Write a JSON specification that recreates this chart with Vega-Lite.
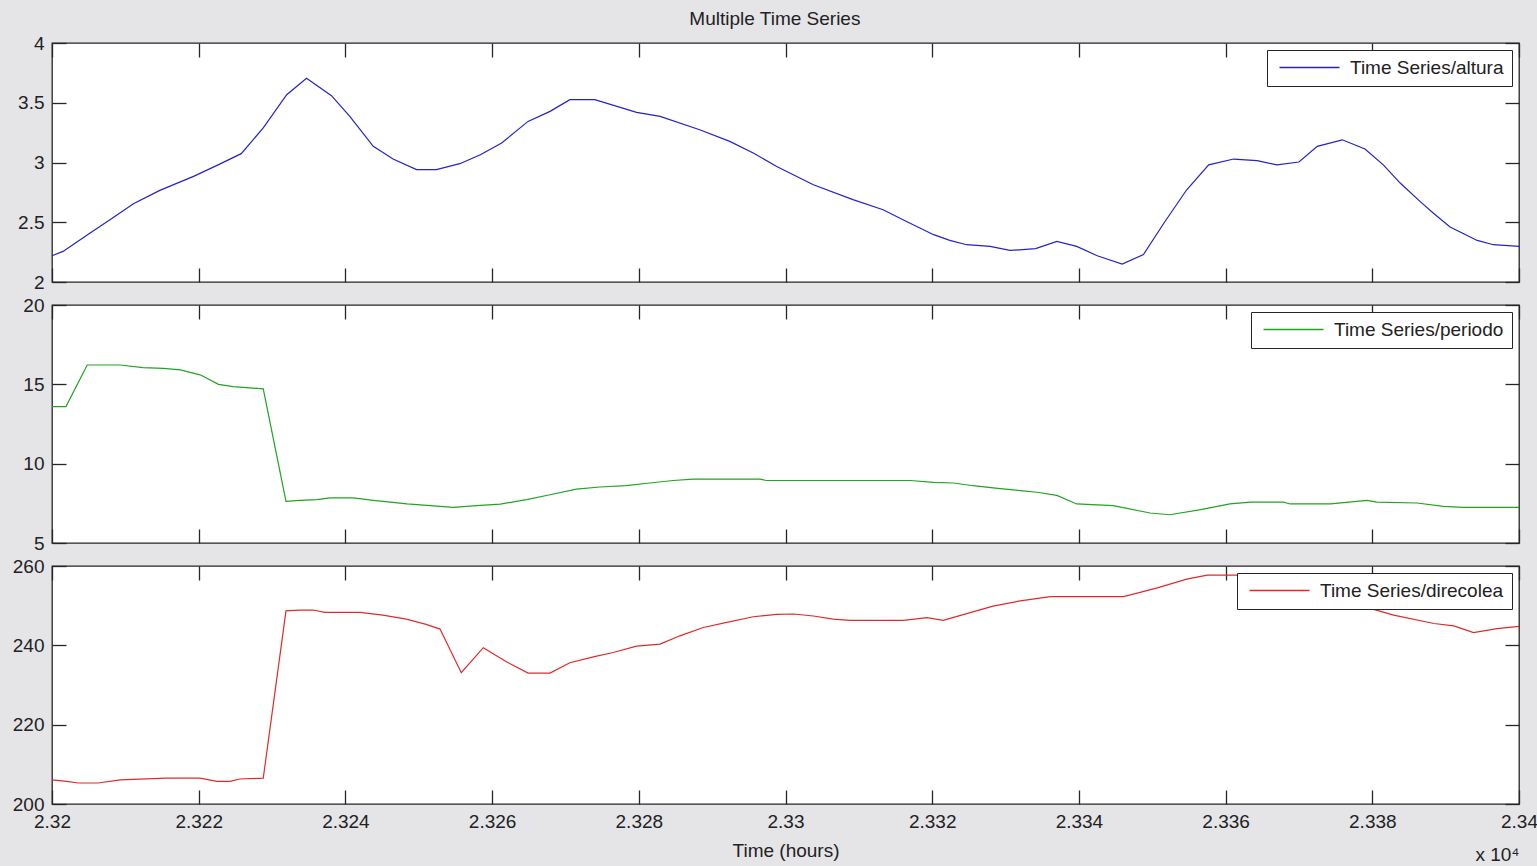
{
  "$schema": "https://vega.github.io/schema/vega-lite/v6.json",
  "background": "#e5e5e8",
  "padding": {"left": 11, "top": 10, "right": 0, "bottom": 4},
  "title": {"text": "Multiple Time Series", "anchor": "middle", "offset": 4},
  "bounds": "flush",
  "datasets": {
    "altura": [
      {"t": 23200, "v": 2.22}, {"t": 23201.5, "v": 2.256}, {"t": 23205.2, "v": 2.41}, {"t": 23207.9, "v": 2.52},
      {"t": 23211.1, "v": 2.655}, {"t": 23214.7, "v": 2.767}, {"t": 23219.3, "v": 2.884}, {"t": 23222.5, "v": 2.976},
      {"t": 23225.8, "v": 3.074}, {"t": 23228.8, "v": 3.289}, {"t": 23232.0, "v": 3.567}, {"t": 23234.7, "v": 3.704},
      {"t": 23238.1, "v": 3.559}, {"t": 23240.6, "v": 3.386}, {"t": 23243.8, "v": 3.135}, {"t": 23246.5, "v": 3.029},
      {"t": 23249.7, "v": 2.94}, {"t": 23252.4, "v": 2.94}, {"t": 23255.6, "v": 2.99}, {"t": 23258.4, "v": 3.065},
      {"t": 23261.3, "v": 3.163}, {"t": 23264.9, "v": 3.344}, {"t": 23267.9, "v": 3.428}, {"t": 23270.6, "v": 3.526},
      {"t": 23274.0, "v": 3.526}, {"t": 23279.7, "v": 3.42}, {"t": 23282.9, "v": 3.386}, {"t": 23288.3, "v": 3.274},
      {"t": 23292.4, "v": 3.177}, {"t": 23295.6, "v": 3.08}, {"t": 23298.8, "v": 2.967}, {"t": 23303.8, "v": 2.814},
      {"t": 23309.2, "v": 2.689}, {"t": 23313.3, "v": 2.605}, {"t": 23316.5, "v": 2.507}, {"t": 23320.2, "v": 2.396},
      {"t": 23322.4, "v": 2.348}, {"t": 23324.7, "v": 2.312}, {"t": 23327.9, "v": 2.298}, {"t": 23330.6, "v": 2.264},
      {"t": 23334.1, "v": 2.279}, {"t": 23337.0, "v": 2.34}, {"t": 23339.7, "v": 2.298}, {"t": 23342.5, "v": 2.22},
      {"t": 23345.9, "v": 2.15}, {"t": 23348.8, "v": 2.229}, {"t": 23351.6, "v": 2.494}, {"t": 23354.7, "v": 2.772},
      {"t": 23357.7, "v": 2.98}, {"t": 23361.1, "v": 3.029}, {"t": 23364.3, "v": 3.015}, {"t": 23367.0, "v": 2.98},
      {"t": 23370.0, "v": 3.004}, {"t": 23372.5, "v": 3.135}, {"t": 23375.9, "v": 3.19}, {"t": 23379.0, "v": 3.113},
      {"t": 23381.5, "v": 2.98}, {"t": 23383.8, "v": 2.828}, {"t": 23386.5, "v": 2.675}, {"t": 23388.3, "v": 2.577},
      {"t": 23390.6, "v": 2.46}, {"t": 23394.3, "v": 2.348}, {"t": 23396.5, "v": 2.312}, {"t": 23400, "v": 2.298}
    ],
    "periodo": [
      {"t": 23200, "v": 13.6}, {"t": 23201.9, "v": 13.6}, {"t": 23204.8, "v": 16.22}, {"t": 23209.3, "v": 16.22},
      {"t": 23212.4, "v": 16.05}, {"t": 23215.2, "v": 16.0}, {"t": 23217.5, "v": 15.91}, {"t": 23220.2, "v": 15.6},
      {"t": 23222.7, "v": 15.0}, {"t": 23224.7, "v": 14.86}, {"t": 23228.8, "v": 14.71}, {"t": 23231.9, "v": 7.62},
      {"t": 23233.8, "v": 7.69}, {"t": 23236.1, "v": 7.73}, {"t": 23237.9, "v": 7.84}, {"t": 23241.1, "v": 7.84},
      {"t": 23243.8, "v": 7.69}, {"t": 23248.4, "v": 7.46}, {"t": 23251.6, "v": 7.35}, {"t": 23254.7, "v": 7.24},
      {"t": 23257.9, "v": 7.35}, {"t": 23261.1, "v": 7.45}, {"t": 23264.7, "v": 7.73}, {"t": 23267.9, "v": 8.04},
      {"t": 23271.5, "v": 8.4}, {"t": 23274.7, "v": 8.53}, {"t": 23278.3, "v": 8.61}, {"t": 23281.5, "v": 8.78},
      {"t": 23284.7, "v": 8.94}, {"t": 23287.4, "v": 9.03}, {"t": 23296.5, "v": 9.03}, {"t": 23297.4, "v": 8.94},
      {"t": 23317.0, "v": 8.94}, {"t": 23320.2, "v": 8.82}, {"t": 23322.9, "v": 8.78}, {"t": 23325.6, "v": 8.61},
      {"t": 23328.3, "v": 8.47}, {"t": 23332.0, "v": 8.3}, {"t": 23334.3, "v": 8.2}, {"t": 23337.0, "v": 8.0},
      {"t": 23339.7, "v": 7.46}, {"t": 23344.7, "v": 7.35}, {"t": 23349.7, "v": 6.89}, {"t": 23352.4, "v": 6.78},
      {"t": 23356.6, "v": 7.1}, {"t": 23360.6, "v": 7.46}, {"t": 23363.4, "v": 7.58}, {"t": 23367.9, "v": 7.58},
      {"t": 23368.8, "v": 7.46}, {"t": 23374.3, "v": 7.46}, {"t": 23379.3, "v": 7.69}, {"t": 23380.6, "v": 7.58},
      {"t": 23386.1, "v": 7.52}, {"t": 23389.7, "v": 7.31}, {"t": 23392.4, "v": 7.24}, {"t": 23400, "v": 7.24}
    ],
    "direcolea": [
      {"t": 23200, "v": 206.1}, {"t": 23202.0, "v": 205.7}, {"t": 23203.6, "v": 205.3}, {"t": 23206.3, "v": 205.3},
      {"t": 23209.3, "v": 206.1}, {"t": 23215.6, "v": 206.5}, {"t": 23220.2, "v": 206.5}, {"t": 23222.5, "v": 205.7},
      {"t": 23224.3, "v": 205.7}, {"t": 23225.6, "v": 206.3}, {"t": 23228.8, "v": 206.5}, {"t": 23231.9, "v": 248.7},
      {"t": 23233.8, "v": 248.9}, {"t": 23235.6, "v": 248.9}, {"t": 23237.2, "v": 248.3}, {"t": 23242.0, "v": 248.3},
      {"t": 23245.1, "v": 247.6}, {"t": 23248.3, "v": 246.6}, {"t": 23251.0, "v": 245.3}, {"t": 23252.9, "v": 244.1},
      {"t": 23255.8, "v": 233.1}, {"t": 23258.8, "v": 239.4}, {"t": 23262.0, "v": 235.8}, {"t": 23264.9, "v": 233.0},
      {"t": 23267.9, "v": 233.0}, {"t": 23270.6, "v": 235.6}, {"t": 23273.8, "v": 237.1}, {"t": 23276.5, "v": 238.2},
      {"t": 23279.7, "v": 239.8}, {"t": 23282.9, "v": 240.3}, {"t": 23285.6, "v": 242.4}, {"t": 23288.8, "v": 244.5},
      {"t": 23292.0, "v": 245.8}, {"t": 23295.6, "v": 247.2}, {"t": 23298.8, "v": 247.8}, {"t": 23301.1, "v": 247.9},
      {"t": 23303.8, "v": 247.4}, {"t": 23306.5, "v": 246.6}, {"t": 23308.8, "v": 246.3}, {"t": 23316.1, "v": 246.3},
      {"t": 23319.3, "v": 247.0}, {"t": 23321.5, "v": 246.3}, {"t": 23324.7, "v": 248.0}, {"t": 23328.3, "v": 249.9},
      {"t": 23332.0, "v": 251.2}, {"t": 23336.1, "v": 252.3}, {"t": 23346.1, "v": 252.3}, {"t": 23350.7, "v": 254.5},
      {"t": 23354.7, "v": 256.7}, {"t": 23357.5, "v": 257.7}, {"t": 23361.6, "v": 257.7}, {"t": 23366, "v": 257.3},
      {"t": 23371, "v": 255}, {"t": 23376, "v": 251.5}, {"t": 23379.7, "v": 249.3}, {"t": 23382.9, "v": 247.6},
      {"t": 23388.4, "v": 245.5}, {"t": 23391.1, "v": 244.9}, {"t": 23393.8, "v": 243.2}, {"t": 23397.0, "v": 244.2},
      {"t": 23400, "v": 244.8}
    ]
  },
  "spacing": 23,
  "resolve": {"scale": {"color": "independent", "y": "independent"}, "legend": {"color": "independent"}},
  "vconcat": [
    {
      "width": 1467, "height": 239,
      "data": {"name": "altura"},
      "layer": [
        {
          "mark": {"type": "line", "strokeWidth": 1.2},
          "encoding": {
            "x": {"field": "t", "type": "quantitative", "scale": {"domain": [23200, 23400], "nice": false, "zero": false},
                  "axis": {"orient": "bottom", "labels": false, "title": null, "values": [23200, 23220, 23240, 23260, 23280, 23300, 23320, 23340, 23360, 23380, 23400]}},
            "y": {"field": "v", "type": "quantitative", "scale": {"domain": [2, 4], "nice": false, "zero": false},
                  "axis": {"orient": "left", "title": null, "values": [2, 2.5, 3, 3.5, 4], "labelExpr": "format(datum.value, '~g')"}},
            "color": {"datum": "Time Series/altura", "type": "nominal", "scale": {"range": ["#2323c8"]}, "legend": {"title": null}}
          }
        },
        {
          "mark": {"type": "line", "opacity": 0},
          "encoding": {
            "x": {"field": "t", "type": "quantitative", "axis": {"orient": "top", "labels": false, "title": null, "values": [23200, 23220, 23240, 23260, 23280, 23300, 23320, 23340, 23360, 23380, 23400]}},
            "y": {"field": "v", "type": "quantitative", "axis": {"orient": "right", "labels": false, "title": null, "values": [2, 2.5, 3, 3.5, 4]}}
          }
        }
      ],
      "resolve": {"axis": {"x": "independent", "y": "independent"}}
    },
    {
      "width": 1467, "height": 238,
      "data": {"name": "periodo"},
      "layer": [
        {
          "mark": {"type": "line", "strokeWidth": 1.2},
          "encoding": {
            "x": {"field": "t", "type": "quantitative", "scale": {"domain": [23200, 23400], "nice": false, "zero": false},
                  "axis": {"orient": "bottom", "labels": false, "title": null, "values": [23200, 23220, 23240, 23260, 23280, 23300, 23320, 23340, 23360, 23380, 23400]}},
            "y": {"field": "v", "type": "quantitative", "scale": {"domain": [5, 20], "nice": false, "zero": false},
                  "axis": {"orient": "left", "title": null, "values": [5, 10, 15, 20]}},
            "color": {"datum": "Time Series/periodo", "type": "nominal", "scale": {"range": ["#22a322"]}, "legend": {"title": null}}
          }
        },
        {
          "mark": {"type": "line", "opacity": 0},
          "encoding": {
            "x": {"field": "t", "type": "quantitative", "axis": {"orient": "top", "labels": false, "title": null, "values": [23200, 23220, 23240, 23260, 23280, 23300, 23320, 23340, 23360, 23380, 23400]}},
            "y": {"field": "v", "type": "quantitative", "axis": {"orient": "right", "labels": false, "title": null, "values": [5, 10, 15, 20]}}
          }
        }
      ],
      "resolve": {"axis": {"x": "independent", "y": "independent"}}
    },
    {
      "width": 1467, "height": 238,
      "data": {"name": "direcolea"},
      "layer": [
        {
          "mark": {"type": "line", "strokeWidth": 1.2},
          "encoding": {
            "x": {"field": "t", "type": "quantitative", "scale": {"domain": [23200, 23400], "nice": false, "zero": false},
                  "axis": {"orient": "bottom", "title": "Time (hours)", "labelExpr": "format(datum.value / 10000, '.4~f')", "values": [23200, 23220, 23240, 23260, 23280, 23300, 23320, 23340, 23360, 23380, 23400]}},
            "y": {"field": "v", "type": "quantitative", "scale": {"domain": [200, 260], "nice": false, "zero": false},
                  "axis": {"orient": "left", "title": null, "values": [200, 220, 240, 260]}},
            "color": {"datum": "Time Series/direcolea", "type": "nominal", "scale": {"range": ["#e02a2a"]}, "legend": {"title": null}}
          }
        },
        {
          "mark": {"type": "line", "opacity": 0},
          "encoding": {
            "x": {"field": "t", "type": "quantitative", "axis": {"orient": "top", "labels": false, "title": null, "values": [23200, 23220, 23240, 23260, 23280, 23300, 23320, 23340, 23360, 23380, 23400]}},
            "y": {"field": "v", "type": "quantitative", "axis": {"orient": "right", "labels": false, "values": [200, 220, 240, 260], "title": "x 10⁴", "titleAngle": 0, "titleAlign": "right", "titleBaseline": "alphabetic", "titleX": 0, "titleY": 294, "titleFontSize": 19}}
          }
        }
      ],
      "resolve": {"axis": {"x": "independent", "y": "independent"}}
    }
  ],
  "config": {
    "font": "Liberation Sans",
    "view": {"stroke": "#262626", "strokeWidth": 1.3, "fill": "white"},
    "title": {"font": "Liberation Sans", "fontSize": 19, "fontWeight": "normal", "color": "#222222"},
    "axis": {
      "domain": false, "grid": false, "tickSize": -14, "tickColor": "#262626", "tickWidth": 1.3,
      "labelFont": "Liberation Sans", "labelFontSize": 19, "labelColor": "#222222", "labelFlush": false, "labelOverlap": false, "labelBound": false,
      "titleFont": "Liberation Sans", "titleFontSize": 19, "titleFontWeight": "normal", "titleColor": "#222222"
    },
    "axisLeft": {"labelPadding": 22},
    "axisBottom": {"labelPadding": 22, "titlePadding": 10},
    "legend": {
      "orient": "top-right", "offset": 7, "padding": 8, "strokeColor": "#262626", "fillColor": "white", "cornerRadius": 0,
      "symbolType": "M-1,0H11", "symbolSize": 100, "symbolStrokeWidth": 1.3, "labelOffset": 56,
      "labelFont": "Liberation Sans", "labelFontSize": 19, "labelColor": "#222222", "labelLimit": 400
    }
  }
}
